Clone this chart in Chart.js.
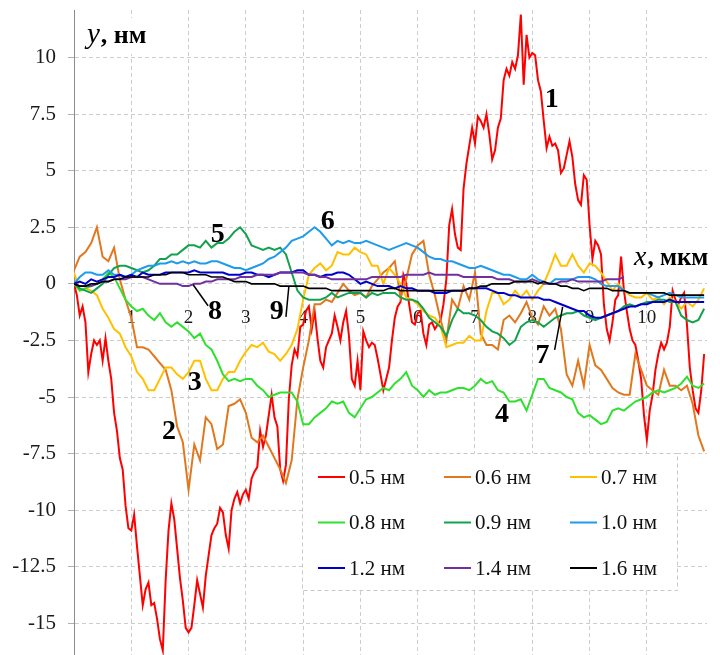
<!DOCTYPE html>
<html lang="ru">
<head>
  <meta charset="UTF-8" />
  <title>Профили y(x)</title>
  <script src="https://cdn.jsdelivr.net/npm/chart.js"></script>
  <style>
    html, body { margin: 0; padding: 0; background: #fff; }
    #wrap { width: 720px; height: 655px; }
  </style>
</head>
<body>
  <div id="wrap"><canvas id="profileChart" width="720" height="655"></canvas></div>

  <script>
    const xs = Array.from({ length: 111 }, (_, i) => i / 10);
    const xsFine = Array.from({ length: 221 }, (_, i) => i / 20);
    const xTicks = [1, 2, 3, 4, 5, 6, 7, 8, 9, 10];
    const yTicks = [10, 7.5, 5, 2.5, 0, -2.5, -5, -7.5, -10, -12.5, -15];

    const seriesNames = ['0.5 нм', '0.6 нм', '0.7 нм', '0.8 нм', '0.9 нм', '1.0 нм', '1.2 нм', '1.4 нм', '1.6 нм'];
    const seriesColors = ['#ff0000', '#e2781e', '#ffc000', '#2fe02f', '#12a24e', '#1e9beb', '#0000cc', '#7030a0', '#000000'];

    const y05 = [0, -0.5, -1.4, -1.0, -1.7, -3.9, -3.1, -2.5, -2.7, -2.5,
      -3.4, -2.4, -3.4, -4.2, -5.7, -6.5, -7.7, -8.2, -9.8, -10.8,
      -10.9, -10.2, -11.6, -12.9, -14.2, -13.5, -13.2, -14.2, -14.1, -14.8,
      -15.7, -16.2, -13.1, -10.9, -9.7, -10.4, -11.7, -13.0, -14.0, -15.2,
      -15.4, -15.2, -14.2, -13.1, -13.7, -14.3, -12.9, -12.0, -11.1, -10.8,
      -10.6, -9.9, -10.1, -11.1, -11.7, -10.0, -9.5, -9.2, -9.7, -9.3,
      -9.1, -9.5, -8.6, -8.3, -8.1, -6.5, -7.2, -6.7, -5.8, -4.9,
      -5.9, -6.3, -8.2, -8.7, -8.0, -5.1, -3.6, -2.9, -3.2, -1.9,
      -1.8, -1.2, -1.0, -2.0, -1.2, -2.4, -3.4, -3.7, -2.8, -2.5,
      -2.2, -1.4, -1.9, -2.5, -1.7, -1.2, -2.3, -4.2, -4.5, -3.4,
      -4.7, -2.1, -2.5, -2.8, -2.6, -2.7, -3.3, -4.0, -4.7, -4.2,
      -3.7, -2.5, -1.5, -1.0, -0.8, 0.4, 0.0, -0.9, -1.7, -1.8,
      -1.3, -1.2, -2.2, -2.7, -1.8, -1.7, -2.0, -1.8, -1.6, -0.9,
      0.2, 2.6, 3.3, 2.2, 1.6, 1.5, 4.2, 5.3, 6.1, 6.9,
      6.2, 7.4, 7.2, 6.9, 7.5, 6.6, 5.5, 5.9, 6.9, 7.3,
      9.0, 9.5, 9.2, 9.8, 9.5, 10.1, 11.9, 8.8, 11.0, 10.0,
      10.2, 10.1, 9.0, 8.5, 7.2, 6.0, 6.5, 6.1, 6.2, 5.9,
      4.9, 5.1, 5.7, 6.3, 5.6, 4.4, 3.7, 3.5, 4.8, 4.6,
      2.6, 1.1, 1.9, 1.7, 1.3, -0.9, -2.0, -2.5, -1.7, -0.7,
      -0.5, 1.2, -0.3, -1.2, -2.0, -2.5, -2.7, -3.4, -4.2, -5.8,
      -6.9, -5.6, -4.9, -3.8, -3.1, -2.6, -2.9, -2.6, -1.9, -0.3,
      -0.7, -0.9, -0.6, -0.4, -1.8, -3.7, -4.7, -5.5, -5.7, -4.7,
      -3.1];

    const y06 = [0.6, 1.2, 1.4, 1.8, 2.5, 1.2, 1.0, 1.6, 0.2, -0.7, -1.5,
      -2.8, -2.8, -2.9, -3.2, -3.5, -3.8, -4.7, -6.3, -7.0, -9.1,
      -7.1, -7.8, -5.9, -6.2, -7.3, -7.1, -5.4, -5.3, -5.1, -5.7,
      -6.8, -7.0, -6.7, -7.2, -7.7, -8.2, -8.8, -7.8, -5.1, -3.7,
      -2.5, -0.9, -0.9, -0.7, -0.8, -0.4, 0.0, -0.3, -0.5, -0.4,
      -0.6, -0.1, 0.2, 0.5, 0.7, 1.0, -0.6, 0.2, 1.3, 1.7,
      1.9, 0.4, -0.5, -1.6, -2.5, -0.7, -1.1, -0.1, -0.7, 0.5,
      -2.2, -2.7, -2.7, -2.9, -1.6, -1.4, -1.7, -1.3, -0.8, -1.5,
      -1.8, -1.0, -1.4, -1.1, -2.0, -4.0, -4.5, -3.4, -4.5, -2.7,
      -3.6, -3.8, -4.2, -4.6, -4.8, -4.9, -4.9, -3.1, -3.8, -4.5,
      -4.7, -4.9, -3.8, -4.5, -4.5, -4.7, -4.5, -5.3, -6.7, -7.4];

    const y07 = [0.5, -0.3, -0.2, -0.3, -0.5, -1.1, -1.5, -2.0, -2.2, -2.8, -3.2,
      -3.9, -4.2, -4.7, -4.7, -4.2, -3.7, -3.7, -4.0, -4.2, -3.9,
      -3.4, -3.4, -4.2, -4.7, -4.7, -4.2, -3.9, -3.9, -3.4, -3.0,
      -2.7, -2.8, -2.6, -3.0, -3.1, -3.4, -3.1, -2.7, -2.0, -0.7,
      0.4, 0.7, 0.9, 0.6, 0.8, 1.4, 1.3, 1.3, 1.6, 1.4,
      1.3, 0.8, 0.8, 0.0, 0.7, 0.4, 0.0, -0.6, -0.7, -0.9,
      -1.2, -1.4, -1.5, -1.9, -2.8, -2.7, -2.6, -2.6, -2.3, -2.5,
      -2.5, -1.2, -0.4, -0.4, -0.9, -0.7, -0.3, -0.6, -0.3, -0.7,
      -0.3, 0.0, 0.6, 1.3, 0.8, 0.8, 1.3, 0.8, 0.5, 0.9,
      0.8, 0.5, 0.1, -0.3, 0.0, -0.3, -0.5, -0.6, -0.6, -0.4,
      -0.7, -0.6, -0.9, -0.6, -0.8, -1.1, -0.8, -1.0, -0.7, -0.2];

    const y08 = [0, -0.3, -0.2, -0.1, 0.0, 0.2, 0.5, 0.3, -0.2, -0.7, -1.0,
      -1.2, -1.1, -1.4, -1.6, -1.3, -1.7, -1.9, -1.7, -1.9, -2.1,
      -2.4, -2.2, -2.7, -2.9, -3.4, -4.0, -4.3, -4.2, -4.3, -4.2,
      -4.2, -4.5, -4.7, -5.0, -4.9, -4.8, -4.8, -4.8, -5.2, -6.2,
      -6.2, -5.9, -5.7, -5.5, -5.2, -5.3, -5.2, -5.7, -5.9, -5.5,
      -5.1, -5.0, -4.8, -4.6, -4.7, -4.4, -4.2, -3.9, -4.5, -4.7,
      -5.0, -4.7, -4.9, -4.8, -4.8, -4.7, -4.6, -4.6, -4.7, -4.5,
      -4.2, -4.4, -4.3, -4.7, -4.8, -5.2, -5.2, -5.1, -5.6, -4.9,
      -4.2, -4.2, -4.6, -4.7, -4.8, -5.0, -5.1, -5.7, -5.9, -5.8,
      -6.0, -6.2, -6.1, -5.6, -5.5, -5.6, -5.4, -5.2, -5.1, -5.0,
      -4.8, -4.7, -4.8, -4.7, -4.6, -4.4, -4.1, -4.5, -4.6, -4.4];

    const y09 = [0, -0.2, -0.3, -0.4, -0.2, 0.0, 0.4, 0.7, 0.8, 0.8, 0.7,
      0.6, 0.5, 0.6, 0.8, 1.1, 1.1, 1.3, 1.3, 1.5, 1.7,
      1.7, 1.6, 1.9, 1.6, 1.8, 1.8, 2.0, 2.3, 2.5, 2.2,
      1.7, 1.6, 1.5, 1.6, 1.5, 1.6, 1.3, 0.5, -0.3, -0.6,
      -0.7, -0.7, -0.7, -0.6, -0.4, -0.6, -0.5, -0.4, -0.4, -0.4,
      -0.6, -0.4, -0.5, -0.4, -0.4, -0.4, -0.6, -0.7, -0.7, -0.8,
      -1.1, -1.5, -1.7, -1.9, -2.3, -1.6, -1.1, -1.3, -1.3, -1.4,
      -1.6, -1.9, -2.1, -2.2, -2.4, -2.7, -2.5, -1.9, -1.7, -1.6,
      -1.7, -1.9, -1.7, -1.5, -1.4, -1.3, -1.3, -1.2, -1.4, -1.5,
      -1.6, -1.5, -1.4, -1.3, -1.2, -1.0, -0.9, -1.0, -0.9, -0.8,
      -0.8, -0.7, -0.7, -0.8, -0.8, -1.4, -1.6, -1.7, -1.6, -1.1];

    const y10 = [0, 0.3, 0.5, 0.5, 0.4, 0.4, 0.6, 0.4, 0.4, 0.3, 0.4,
      0.6, 0.7, 0.8, 0.8, 0.9, 0.9, 1.0, 0.9, 1.0, 0.9,
      1.0, 0.9, 0.9, 1.0, 1.0, 0.9, 0.8, 0.7, 0.7, 0.6,
      0.7, 0.8, 0.9, 1.1, 1.2, 1.4, 1.6, 1.9, 2.0, 2.1,
      2.3, 2.5, 2.3, 2.0, 1.7, 1.9, 1.8, 1.9, 1.8, 1.8,
      1.9, 1.8, 1.7, 1.6, 1.5, 1.6, 1.7, 1.8, 1.7, 1.6,
      1.4, 1.2, 1.1, 1.1, 1.0, 1.0, 0.9, 0.8, 0.7, 0.7,
      0.8, 0.7, 0.6, 0.5, 0.4, 0.4, 0.3, 0.2, 0.2, 0.4,
      0.2, 0.1, 0.0, 0.2, 0.2, 0.2, 0.2, 0.3, 0.3, 0.3,
      0.2, 0.0, -0.1, -0.1, -0.1, -0.3, -0.4, -0.4, -0.4, -0.4,
      -0.5, -0.6, -0.5, -0.4, -0.5, -0.6, -0.6, -0.6, -0.6, -0.6];

    const y12 = [0.0, 0.1, 0.0, 0.2, 0.1, 0.2, 0.3, 0.3, 0.4, 0.3, 0.4,
      0.3, 0.5, 0.4, 0.4, 0.4, 0.5, 0.5, 0.5, 0.5, 0.5,
      0.6, 0.5, 0.5, 0.5, 0.5, 0.5, 0.4, 0.4, 0.4, 0.5,
      0.5, 0.4, 0.4, 0.3, 0.4, 0.5, 0.5, 0.5, 0.6, 0.6,
      0.4, 0.4, 0.3, 0.4, 0.4, 0.5, 0.5, 0.4, 0.2, 0.0,
      0.1, 0.0, -0.1, -0.1, -0.1, -0.2, -0.1, -0.2, -0.2, -0.3,
      -0.3, -0.3, -0.4, -0.4, -0.4, -0.3, -0.3, -0.3, -0.2, -0.2,
      -0.2, -0.2, -0.3, -0.4, -0.4, -0.5, -0.5, -0.6, -0.6, -0.6,
      -0.6, -0.7, -0.7, -0.8, -0.9, -1.0, -1.1, -1.2, -1.2, -1.4,
      -1.5, -1.5, -1.4, -1.3, -1.2, -1.1, -1.0, -1.0, -0.9, -0.9,
      -0.8, -0.8, -0.8, -0.7, -0.8, -0.8, -0.8, -0.8, -0.8, -0.8];

    // кривая 1.4 нм обрывается около x = 9.6
    const y14 = [0.0, -0.1, -0.1, -0.1, 0.0, 0.1, 0.1, 0.2, 0.2, 0.2, 0.3,
      0.3, 0.3, 0.2, 0.1, 0.0, 0.0, 0.0, 0.0, -0.1, -0.1,
      0.0, 0.0, 0.1, 0.1, 0.2, 0.2, 0.2, 0.2, 0.3, 0.3,
      0.3, 0.4, 0.4, 0.4, 0.4, 0.5, 0.5, 0.5, 0.5, 0.5,
      0.4, 0.4, 0.3, 0.3, 0.2, 0.2, 0.2, 0.2, 0.2, 0.2,
      0.2, 0.3, 0.3, 0.3, 0.3, 0.3, 0.3, 0.4, 0.4, 0.4,
      0.4, 0.5, 0.4, 0.4, 0.4, 0.4, 0.4, 0.3, 0.3, 0.3,
      0.3, 0.3, 0.3, 0.2, 0.2, 0.2, 0.1, 0.1, 0.1, 0.2,
      0.1, 0.0, 0.0, 0.0, 0.1, 0.1, 0.2, 0.1, 0.1, 0.1,
      0.1, 0.1, 0.2, 0.2, 0.2, 0.3];

    const y16 = [0.0, -0.1, -0.1, 0.0, 0.0, 0.1, 0.1, 0.2, 0.2, 0.3, 0.3,
      0.3, 0.3, 0.3, 0.4, 0.4, 0.4, 0.5, 0.5, 0.5, 0.4,
      0.4, 0.4, 0.4, 0.3, 0.3, 0.3, 0.2, 0.1, 0.1, 0.1,
      0.0, 0.0, 0.0, 0.0, 0.0, -0.1, -0.1, -0.1, -0.1, -0.1,
      -0.2, -0.2, -0.2, -0.2, -0.3, -0.3, -0.3, -0.3, -0.3, -0.3,
      -0.3, -0.3, -0.3, -0.3, -0.2, -0.2, -0.3, -0.3, -0.3, -0.3,
      -0.3, -0.3, -0.3, -0.3, -0.3, -0.3, -0.3, -0.3, -0.2, -0.2,
      -0.1, -0.1, 0.0, 0.0, 0.0, 0.0, 0.1, 0.1, 0.1, 0.1,
      0.0, 0.1, 0.0, 0.0, -0.1, -0.1, -0.2, -0.2, -0.3, -0.2,
      -0.2, -0.2, -0.2, -0.3, -0.3, -0.3, -0.4, -0.4, -0.4, -0.4,
      -0.4, -0.4, -0.4, -0.5, -0.5, -0.5, -0.5, -0.5, -0.5, -0.5];

    const seriesValues = [y05, y06, y07, y08, y09, y10, y12, y14, y16];
    const seriesX = [xsFine, xs, xs, xs, xs, xs, xs, xs, xs];

    // номера кривых и выноски (в единицах осей)
    const markText = ['1', '2', '3', '4', '5', '6', '7', '8', '9'];
    const markX = [8.34, 1.66, 2.11, 7.47, 2.51, 4.43, 8.18, 2.46, 3.54];
    const markY = [8.13, -6.54, -4.37, -5.79, 2.17, 2.74, -3.18, -1.24, -1.24];
    const leaders = [
      [8.39, -2.92, 8.53, -1.02],
      [2.08, -0.04, 2.34, -0.97],
      [3.75, -0.13, 3.70, -1.46]
    ];

    const serif = "'Liberation Serif', 'Times New Roman', serif";

    const datasets = seriesValues.map((vals, i) => ({
      label: seriesNames[i],
      data: vals.map((v, k) => ({ x: seriesX[i][k], y: v })),
      borderColor: seriesColors[i],
      backgroundColor: seriesColors[i],
      borderWidth: i === 8 ? 1.6 : 2,
      pointRadius: 0,
      tension: 0,
      order: 8 - i
    }));

    const decor = {
      id: 'decor',
      afterDatasetsDraw(chart) {
        const { ctx, scales: { x, y } } = chart;
        ctx.save();

        // выноски
        ctx.strokeStyle = '#000';
        ctx.lineWidth = 1.5;
        leaders.forEach(([a, b, c, d]) => {
          ctx.beginPath();
          ctx.moveTo(x.getPixelForValue(a), y.getPixelForValue(b));
          ctx.lineTo(x.getPixelForValue(c), y.getPixelForValue(d));
          ctx.stroke();
        });

        ctx.fillStyle = '#000';
        ctx.font = `bold 28px ${serif}`;
        ctx.textAlign = 'center';
        ctx.textBaseline = 'middle';
        markText.forEach((t, i) => {
          ctx.fillText(t, x.getPixelForValue(markX[i]), y.getPixelForValue(markY[i]));
        });

        // подписи осей
        ctx.textAlign = 'left';
        ctx.textBaseline = 'alphabetic';
        ctx.fillStyle = '#fff';
        ctx.fillRect(80, 18, 86, 36);
        ctx.fillRect(630, 242, 90, 32);
        ctx.fillStyle = '#000';
        ctx.font = `italic 29px ${serif}`;
        ctx.fillText('y', 87, 43);
        let w = ctx.measureText('y').width;
        ctx.font = `bold 26px ${serif}`;
        ctx.fillText(', нм', 87 + w + 1, 43);

        ctx.font = `italic 28px ${serif}`;
        ctx.fillText('x', 634, 265);
        w = ctx.measureText('x').width;
        ctx.font = `bold 25px ${serif}`;
        ctx.fillText(', мкм', 634 + w + 1, 265);

        // легенда
        const lx = 302, ly = 453, lw = 375, lh = 137;
        ctx.fillStyle = '#fff';
        ctx.fillRect(lx, ly, lw, lh);
        ctx.strokeStyle = '#c8c8c8';
        ctx.lineWidth = 1;
        ctx.setLineDash([4, 3]);
        ctx.strokeRect(lx + 0.5, ly + 0.5, lw, lh);
        ctx.setLineDash([]);
        ctx.font = `21px ${serif}`;
        ctx.textBaseline = 'middle';
        seriesNames.forEach((name, i) => {
          const cx = 318 + (i % 3) * 126;
          const cy = 477 + Math.floor(i / 3) * 45.5;
          ctx.strokeStyle = seriesColors[i];
          ctx.lineWidth = 2;
          ctx.beginPath();
          ctx.moveTo(cx, cy);
          ctx.lineTo(cx + 27, cy);
          ctx.stroke();
          ctx.fillStyle = '#111';
          ctx.fillText(name, cx + 31, cy + 1);
        });

        ctx.restore();
      }
    };

    new Chart(document.getElementById('profileChart'), {
      type: 'line',
      data: { datasets },
      options: {
        responsive: false,
        animation: false,
        devicePixelRatio: 1,
        layout: { padding: { top: 10, right: 13, bottom: 0, left: 0 } },
        plugins: { legend: { display: false }, tooltip: { enabled: false } },
        scales: {
          x: {
            type: 'linear',
            min: 0,
            max: 11.05,
            position: { y: 0 },
            afterBuildTicks: s => { s.ticks = xTicks.map(v => ({ value: v })); },
            afterFit: s => { s.paddingLeft = 0; s.paddingRight = 0; },
            grid: { color: '#cdcdcd', drawTicks: false },
            border: { display: false, dash: [4, 3] },
            ticks: {
              padding: 23,
              autoSkip: false,
              maxRotation: 0,
              color: '#1a1a1a',
              font: { family: serif, size: 19 },
              callback: v => String(v)
            }
          },
          y: {
            type: 'linear',
            min: -16.4,
            max: 12.1,
            position: 'left',
            afterBuildTicks: s => { s.ticks = yTicks.map(v => ({ value: v })); },
            afterFit: s => { s.width = 74; s.paddingTop = 0; s.paddingBottom = 0; },
            grid: { color: '#cdcdcd', tickLength: 6, tickColor: '#b0b0b0' },
            border: { display: true, color: '#8c8c8c', width: 1, dash: [4, 3] },
            ticks: {
              padding: 12,
              color: '#1a1a1a',
              font: { family: serif, size: 21 },
              callback: v => String(v)
            }
          }
        }
      },
      plugins: [decor]
    });
  </script>
</body>
</html>
